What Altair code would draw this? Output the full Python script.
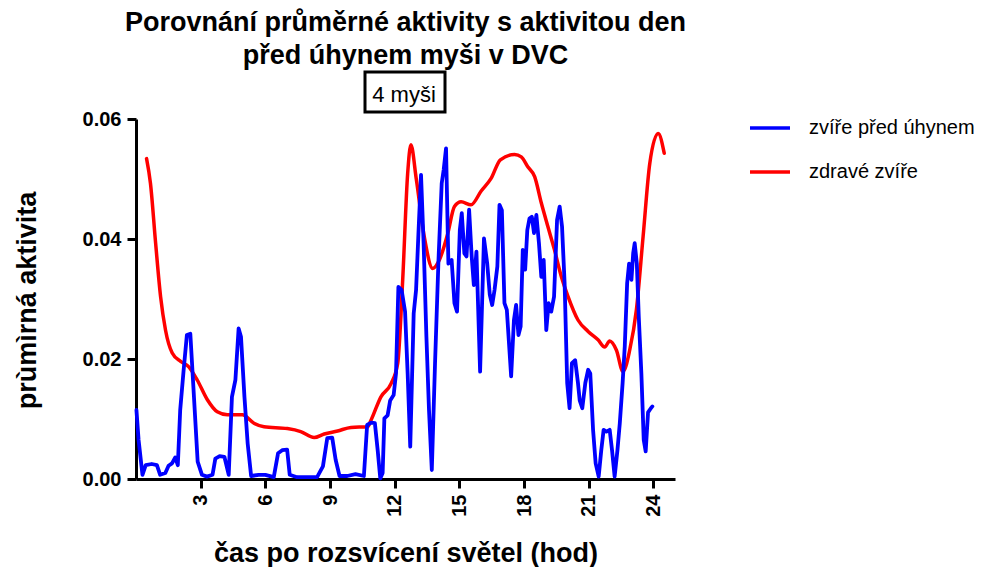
import altair as alt
import pandas as pd

# ---- data ----
series_names = ["zvíře před úhynem", "zdravé zvíře"]
series_colors = ["#0000FF", "#FF0000"]

blue_hours = [0.02, 0.12, 0.30, 0.45, 0.73, 0.97, 1.12, 1.36, 1.51, 1.67, 1.82, 1.94,
              2.05, 2.21, 2.36, 2.52, 2.67, 2.86, 3.06, 3.29, 3.55, 3.68, 3.88, 4.10,
              4.30, 4.45, 4.61, 4.76, 4.87, 5.03, 5.18, 5.34, 5.69, 6.00, 6.39, 6.59,
              6.78, 7.01, 7.13, 7.47, 7.94, 8.40, 8.67, 8.87, 9.10, 9.26, 9.44, 9.80,
              10.18, 10.57, 10.72, 10.91, 11.08, 11.21, 11.33, 11.44, 11.52, 11.67, 11.79, 11.95,
              12.06, 12.17, 12.32, 12.48, 12.60, 12.72, 12.88, 12.99, 13.10, 13.22, 13.34, 13.47,
              13.59, 13.72, 13.87, 14.03, 14.18, 14.27, 14.38, 14.49, 14.64, 14.77, 14.89, 15.02,
              15.11, 15.23, 15.33, 15.45, 15.57, 15.67, 15.79, 15.96, 16.14, 16.29, 16.41, 16.52,
              16.63, 16.76, 16.86, 16.97, 17.09, 17.20, 17.40, 17.53, 17.63, 17.74, 17.84, 17.94,
              18.05, 18.15, 18.25, 18.36, 18.46, 18.57, 18.69, 18.80, 18.91, 19.03, 19.14, 19.26,
              19.39, 19.53, 19.65, 19.76, 19.88, 20.00, 20.11, 20.22, 20.37, 20.50, 20.58, 20.70,
              20.84, 20.97, 21.07, 21.20, 21.32, 21.46, 21.58, 21.69, 21.82, 21.97, 22.08, 22.20,
              22.33, 22.44, 22.57, 22.67, 22.78, 22.87, 22.98, 23.06, 23.13, 23.23, 23.32, 23.44,
              23.55, 23.64, 23.75, 23.88, 23.95]
blue_values = [0.0115, 0.0065, 0.0007, 0.0023, 0.0025, 0.0023, 0.0007, 0.0010, 0.0022, 0.0026, 0.0036, 0.0023,
               0.0115, 0.0182, 0.0240, 0.0242, 0.0148, 0.0029, 0.0007, 0.0004, 0.0007, 0.0034, 0.0038, 0.0037,
               0.0007, 0.0137, 0.0165, 0.0251, 0.0237, 0.0137, 0.0059, 0.0005, 0.0007, 0.0007, 0.0003, 0.0043,
               0.0048, 0.0049, 0.0007, 0.0003, 0.0003, 0.0003, 0.0021, 0.0068, 0.0069, 0.0032, 0.0005, 0.0005,
               0.0008, 0.0005, 0.0090, 0.0094, 0.0093, 0.0048, 0.0001, 0.0010, 0.0101, 0.0106, 0.0131, 0.0140,
               0.0176, 0.0320, 0.0315, 0.0279, 0.0176, 0.0054, 0.0276, 0.0315, 0.0409, 0.0507, 0.0393, 0.0237,
               0.0115, 0.0015, 0.0193, 0.0365, 0.0493, 0.0515, 0.0551, 0.0359, 0.0365, 0.0293, 0.0279, 0.0415,
               0.0443, 0.0376, 0.0371, 0.0449, 0.0371, 0.0323, 0.0379, 0.0179, 0.0401, 0.0359, 0.0307, 0.0290,
               0.0315, 0.0354, 0.0457, 0.0448, 0.0293, 0.0282, 0.0171, 0.0265, 0.0290, 0.0240, 0.0254, 0.0382,
               0.0349, 0.0415, 0.0434, 0.0437, 0.0410, 0.0440, 0.0393, 0.0337, 0.0365, 0.0248, 0.0293, 0.0279,
               0.0304, 0.0432, 0.0454, 0.0421, 0.0326, 0.0160, 0.0118, 0.0193, 0.0198, 0.0160, 0.0131, 0.0118,
               0.0160, 0.0182, 0.0176, 0.0082, 0.0026, 0.0004, 0.0048, 0.0082, 0.0079, 0.0082, 0.0048, 0.0004,
               0.0048, 0.0093, 0.0160, 0.0221, 0.0326, 0.0359, 0.0332, 0.0376, 0.0393, 0.0359, 0.0270, 0.0176,
               0.0065, 0.0046, 0.0111, 0.0118, 0.0121]

red_hours = [0.49, 0.67, 0.91, 1.14, 1.37, 1.68, 2.07, 2.45, 2.84, 3.31, 3.77, 4.24, 4.93,
             5.47, 5.94, 7.02, 7.64, 8.26, 8.73, 9.35, 9.97, 10.74, 10.90, 11.36, 11.83, 12.14,
             12.37, 12.60, 12.75, 13.00, 13.37, 13.76, 14.07, 14.46, 14.77, 15.08, 15.54, 16.01,
             16.47, 16.90, 17.56, 17.87, 18.18, 18.49, 18.80, 19.11, 19.41, 19.73, 20.04, 20.50,
             20.97, 21.43, 21.74, 21.97, 22.28, 22.59, 22.90, 23.21, 23.52, 23.83, 24.22, 24.50]
red_values = [0.0534, 0.0493, 0.0393, 0.0304, 0.0248, 0.0210, 0.0196, 0.0187, 0.0165, 0.0132, 0.0112, 0.0107, 0.0107,
              0.0093, 0.0087, 0.0084, 0.0079, 0.0069, 0.0075, 0.0080, 0.0086, 0.0087, 0.0098, 0.0137, 0.0159, 0.0193,
              0.0332, 0.0509, 0.0557, 0.0500, 0.0404, 0.0351, 0.0365, 0.0409, 0.0454, 0.0462, 0.0457, 0.0480,
              0.0501, 0.0532, 0.0541, 0.0537, 0.0520, 0.0504, 0.0460, 0.0420, 0.0382, 0.0337, 0.0304, 0.0265,
              0.0246, 0.0232, 0.0220, 0.0230, 0.0215, 0.0179, 0.0215, 0.0282, 0.0404, 0.0526, 0.0576, 0.0543]

x_ticks = [3, 6, 9, 12, 15, 18, 21, 24]
y_ticks = [0.0, 0.02, 0.04, 0.06]

title_lines = ["Porovnání průměrné aktivity s aktivitou den", "před úhynem myši v DVC"]
subtitle_box = ["4 myši"]
x_title = "čas po rozsvícení světel (hod)"
y_title = "prùmìrná aktivita"

FONT = "Liberation Sans"

blue_df = pd.DataFrame({"hod": blue_hours, "aktivita": blue_values, "serie": series_names[0]})
red_df = pd.DataFrame({"hod": red_hours, "aktivita": red_values, "serie": series_names[1]})

x_enc = alt.X("hod:Q", scale=alt.Scale(domain=[0, 25], nice=False, zero=False),
              axis=alt.Axis(values=x_ticks, labelAngle=-90, title=x_title,
                            titleY=82, titleBaseline="alphabetic", titleAnchor="middle"))
y_enc = alt.Y("aktivita:Q", scale=alt.Scale(domain=[0, 0.06], nice=False),
              axis=alt.Axis(values=y_ticks, format=".2f", title=y_title,
                            titleX=-109, titleY=181, titleAngle=-90,
                            titleBaseline="middle", titleAlign="center"))
color_enc = alt.Color("serie:N",
                      scale=alt.Scale(domain=series_names, range=series_colors),
                      legend=alt.Legend(title=None, orient="none", legendX=612, legendY=-13,
                                        symbolType="stroke", symbolSize=1600,
                                        symbolStrokeWidth=3.5, labelFontSize=20,
                                        labelFont=FONT, labelColor="black", labelLimit=400,
                                        labelOffset=17, rowPadding=12))

red_line = alt.Chart(red_df).mark_line(strokeWidth=3.5, interpolate="monotone",
                                       strokeCap="round", strokeJoin="round").encode(
    x=x_enc, y=y_enc, color=color_enc)
blue_line = alt.Chart(blue_df).mark_line(strokeWidth=3.8, strokeCap="round",
                                         strokeJoin="round").encode(
    x=x_enc, y=y_enc, color=color_enc)

box_df = pd.DataFrame({"label": subtitle_box})
box = alt.Chart(box_df).mark_rect(fill="white", stroke="black", strokeWidth=3).encode(
    x=alt.value(229), x2=alt.value(309), y=alt.value(-47), y2=alt.value(-7))
box_text = alt.Chart(box_df).mark_text(font=FONT, fontSize=22, color="black",
                                       align="center", baseline="alphabetic").encode(
    x=alt.value(268), y=alt.value(-17), text="label:N")

chart = alt.layer(red_line, blue_line, box, box_text).properties(
    width=539, height=360,
    title=alt.TitleParams(title_lines, font=FONT, fontSize=27, fontWeight="bold",
                          color="black", anchor="middle", frame="group",
                          lineHeight=33, baseline="bottom", offset=4, dy=30),
    autosize=alt.AutoSizeParams(type="none"),
    padding={"left": 128, "top": 111, "right": 305, "bottom": 88},
).configure_view(stroke=None).configure_axis(
    grid=False, domainColor="black", domainWidth=3, tickColor="black", tickWidth=3,
    tickSize=9, labelFont=FONT, labelFontSize=20, labelFontWeight="bold",
    labelColor="black", labelPadding=6, titleFont=FONT, titleFontSize=27,
    titleFontWeight="bold", titleColor="black"
)

chart.save("out.html", embed_options={"renderer": "svg", "actions": False})
